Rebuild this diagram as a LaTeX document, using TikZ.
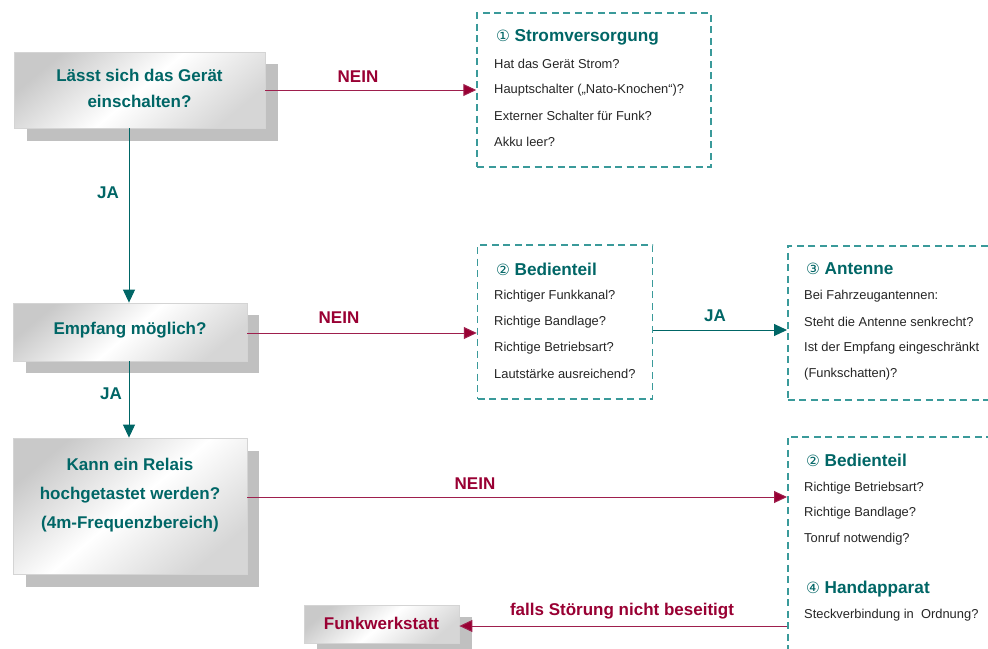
\documentclass[tikz,border=0pt]{standalone}
\usepackage{fontspec}
\setmainfont{Liberation Sans}
\newfontfamily\symfont{DejaVu Sans}
\usetikzlibrary{arrows.meta,calc}
\definecolor{teal1}{HTML}{006666}
\definecolor{tealdash}{HTML}{3A9A9A}
\definecolor{redline}{HTML}{9E1F4D}
\definecolor{redtext}{HTML}{990033}
\definecolor{shadowgray}{HTML}{C0C0C0}
\definecolor{boxborder}{HTML}{D4D4D4}
\definecolor{itemgray}{HTML}{262626}
\tikzset{
  qbox/.style={draw=boxborder, line width=0.8pt, shading=axis, top color=gray!42, bottom color=gray!32, middle color=white, shading angle=40, inner sep=0pt},
  qtext/.style={text=teal1, font=\fontsize{17}{26}\selectfont\bfseries, align=center, inner sep=0pt},
  shadowfill/.style={fill=shadowgray},
  dashbox/.style={draw=tealdash, line width=1.5pt, dash pattern=on 7pt off 4.5pt, inner sep=0pt},
  titletext/.style={anchor=west, inner sep=0pt, text=teal1, font=\fontsize{17.2}{20}\selectfont\bfseries},
  itemtext/.style={anchor=west, inner sep=0pt, text=itemgray, font=\fontsize{12.9}{15}\selectfont},
  redarrow/.style={draw=redline, line width=1pt, -{Triangle[length=13pt,width=12pt,fill=redtext]}},
  tealarrow/.style={draw=teal1, line width=1pt, -{Triangle[length=13pt,width=12pt,fill=teal1]}},
  redlabel/.style={text=redtext, font=\fontsize{17}{20}\selectfont\bfseries, inner sep=0pt},
  teallabel/.style={text=teal1, font=\fontsize{17}{20}\selectfont\bfseries, inner sep=0pt}
}
\newcommand{\cnum}[1]{{\symfont\fontsize{15.5}{15}\selectfont\mdseries #1}\hspace{4.5pt}}
\begin{document}
\begin{tikzpicture}[x=1pt,y=-1pt]
\clip (0,0) rectangle (988,648);
\fill[white] (0,0) rectangle (988,648);

% shadows
\fill[shadowfill] (27,64) rectangle (278,141);
\fill[shadowfill] (26,315) rectangle (259,373);
\fill[shadowfill] (26,451) rectangle (259,587);
\fill[shadowfill] (317,617) rectangle (472,660);

% question boxes
\node[qbox, minimum width=251pt, minimum height=76pt] (q1) at (139.5,90) {};
\node[qtext] (q1t) at (139.5,88) {Lässt sich das Gerät\\einschalten?};
\node[qbox, minimum width=234pt, minimum height=58pt] (q2) at (130,332) {};
\node[qtext] (q2t) at (130,330) {Empfang möglich?};
\node[qbox, minimum width=234pt, minimum height=136pt] (q3) at (130,506) {};
\node[qtext, font=\fontsize{17}{29}\selectfont\bfseries] (q3t) at (130,495) {Kann ein Relais\\hochgetastet werden?\\(4m-Frequenzbereich)};
\node[qbox, minimum width=155pt, minimum height=38pt] (fw) at (381.5,624) {};
\node[qtext, text=redtext] (fwt) at (381.5,623) {Funkwerkstatt};

% dashed info boxes
\node[dashbox, minimum width=234pt, minimum height=154pt] (strom) at (594,90) {};
\node[dashbox, minimum width=175pt, minimum height=154pt] (bed) at (565,322) {};
\node[dashbox, minimum width=230pt, minimum height=154pt, anchor=north west] (ant) at (787,245) {};
\node[dashbox, minimum width=230pt, minimum height=240pt, anchor=north west] (bed2) at (787,436) {};

% texts: Stromversorgung
\node[titletext] (st) at (496,37) {\cnum{①}Stromversorgung};
\node[itemtext] (s1) at (494,64) {Hat das Gerät Strom?};
\node[itemtext] (s2) at (494,90) {Hauptschalter („Nato-Knochen“)?};
\node[itemtext] (s3) at (494,116) {Externer Schalter für Funk?};
\node[itemtext] (s4) at (494,142) {Akku leer?};

% Bedienteil
\node[titletext] (bt) at (496,269) {\cnum{②}Bedienteil};
\node[itemtext] (b1) at (494,296) {Richtiger Funkkanal?};
\node[itemtext] (b2) at (494,322) {Richtige Bandlage?};
\node[itemtext] (b3) at (494,348) {Richtige Betriebsart?};
\node[itemtext] (b4) at (494,374) {Lautstärke ausreichend?};

% Antenne
\node[titletext] (at) at (806,269) {\cnum{③}Antenne};
\node[itemtext] (a1) at (804,296) {Bei Fahrzeugantennen:};
\node[itemtext] (a2) at (804,322) {Steht die Antenne senkrecht?};
\node[itemtext] (a3) at (804,348) {Ist der Empfang eingeschränkt};
\node[itemtext] (a4) at (804,374) {(Funkschatten)?};

% Bedienteil 2 / Handapparat
\node[titletext] (b2t) at (806,460) {\cnum{②}Bedienteil};
\node[itemtext] (c1) at (804,488) {Richtige Betriebsart?};
\node[itemtext] (c2) at (804,513) {Richtige Bandlage?};
\node[itemtext] (c3) at (804,539) {Tonruf notwendig?};
\node[titletext] (ht) at (806,589) {\cnum{④}Handapparat};
\node[itemtext] (h1) at (804,615) {Steckverbindung in\ \ Ordnung?};

% connectors
\draw[redarrow] (q1.east) -- (strom.west);
\node[redlabel] (l1) at (358,77) {NEIN};
\draw[tealarrow] (q1.south -| 129,0) -- (q2.north -| 129,0);
\node[teallabel] (l2) at (108,193) {JA};
\draw[redarrow] (q2.east |- 0,333) -- (bed.west |- 0,333);
\node[redlabel] (l3) at (339,318) {NEIN};
\draw[tealarrow] (bed.east |- 0,330) -- (ant.west |- 0,330);
\node[teallabel] (l4) at (715,316) {JA};
\draw[tealarrow] (q2.south -| 129,0) -- (q3.north -| 129,0);
\node[teallabel] (l5) at (111,394) {JA};
\draw[redarrow] (q3.east |- 0,497) -- (bed2.west |- 0,497);
\node[redlabel] (l6) at (475,484) {NEIN};
\draw[redarrow] (bed2.west |- 0,626) -- (fw.east |- 0,626);
\node[redlabel] (l7) at (622,611) {falls Störung nicht beseitigt};
\end{tikzpicture}
\end{document}
